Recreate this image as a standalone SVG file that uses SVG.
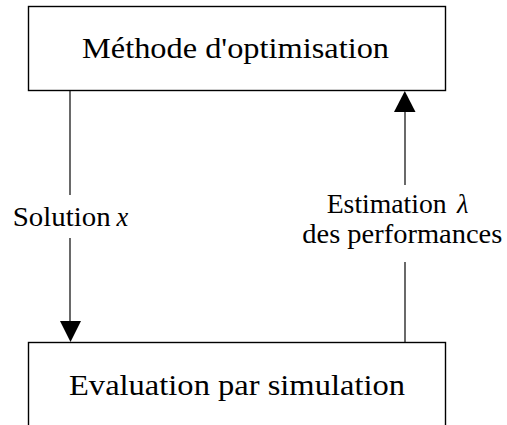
<svg xmlns="http://www.w3.org/2000/svg" width="507" height="425" viewBox="0 0 507 425">
<style>
.box{fill:#fff;stroke:#000;stroke-width:1.4}
.ln{stroke:#1a1a1a;stroke-width:1.3;fill:none}
.ah{fill:#000}
</style>
<rect width="507" height="425" fill="#fff"/>
<g id="node-optimisation">
<rect class="box" x="28.5" y="6.5" width="417" height="84"/>
<text font-family="Liberation Serif, serif" font-size="29" x="82" y="58.3" textLength="307" lengthAdjust="spacingAndGlyphs">Méthode d'optimisation</text>
</g>
<g id="node-simulation">
<rect class="box" x="28.5" y="342.5" width="417" height="100"/>
<text font-family="Liberation Serif, serif" font-size="29" x="69" y="395" textLength="336" lengthAdjust="spacingAndGlyphs">Evaluation par simulation</text>
</g>
<g id="connectors">
<g id="edge-solution">
<line class="ln" x1="70" y1="91" x2="70" y2="195"/>
<line class="ln" x1="70" y1="238" x2="70" y2="322"/>
<polygon class="ah" points="60,321 81,321 70.5,342"/>
<text font-family="Liberation Serif, serif" font-size="26.5" x="12.7" y="226"><tspan textLength="98" lengthAdjust="spacingAndGlyphs">Solution</tspan><tspan x="116.5" font-style="italic">x</tspan></text>
</g>
<g id="edge-estimation">
<line class="ln" x1="405" y1="342" x2="405" y2="262"/>
<line class="ln" x1="405" y1="185" x2="405" y2="111"/>
<polygon class="ah" points="394,112 415.5,112 404.8,91"/>
<text font-family="Liberation Serif, serif" font-size="26.5" x="326.7" y="212.7"><tspan textLength="120" lengthAdjust="spacingAndGlyphs">Estimation</tspan><tspan x="457" font-style="italic">λ</tspan></text>
<text font-family="Liberation Serif, serif" font-size="26.5" x="302.3" y="243.3" textLength="200" lengthAdjust="spacingAndGlyphs">des performances</text>
</g>
</g>
</svg>
